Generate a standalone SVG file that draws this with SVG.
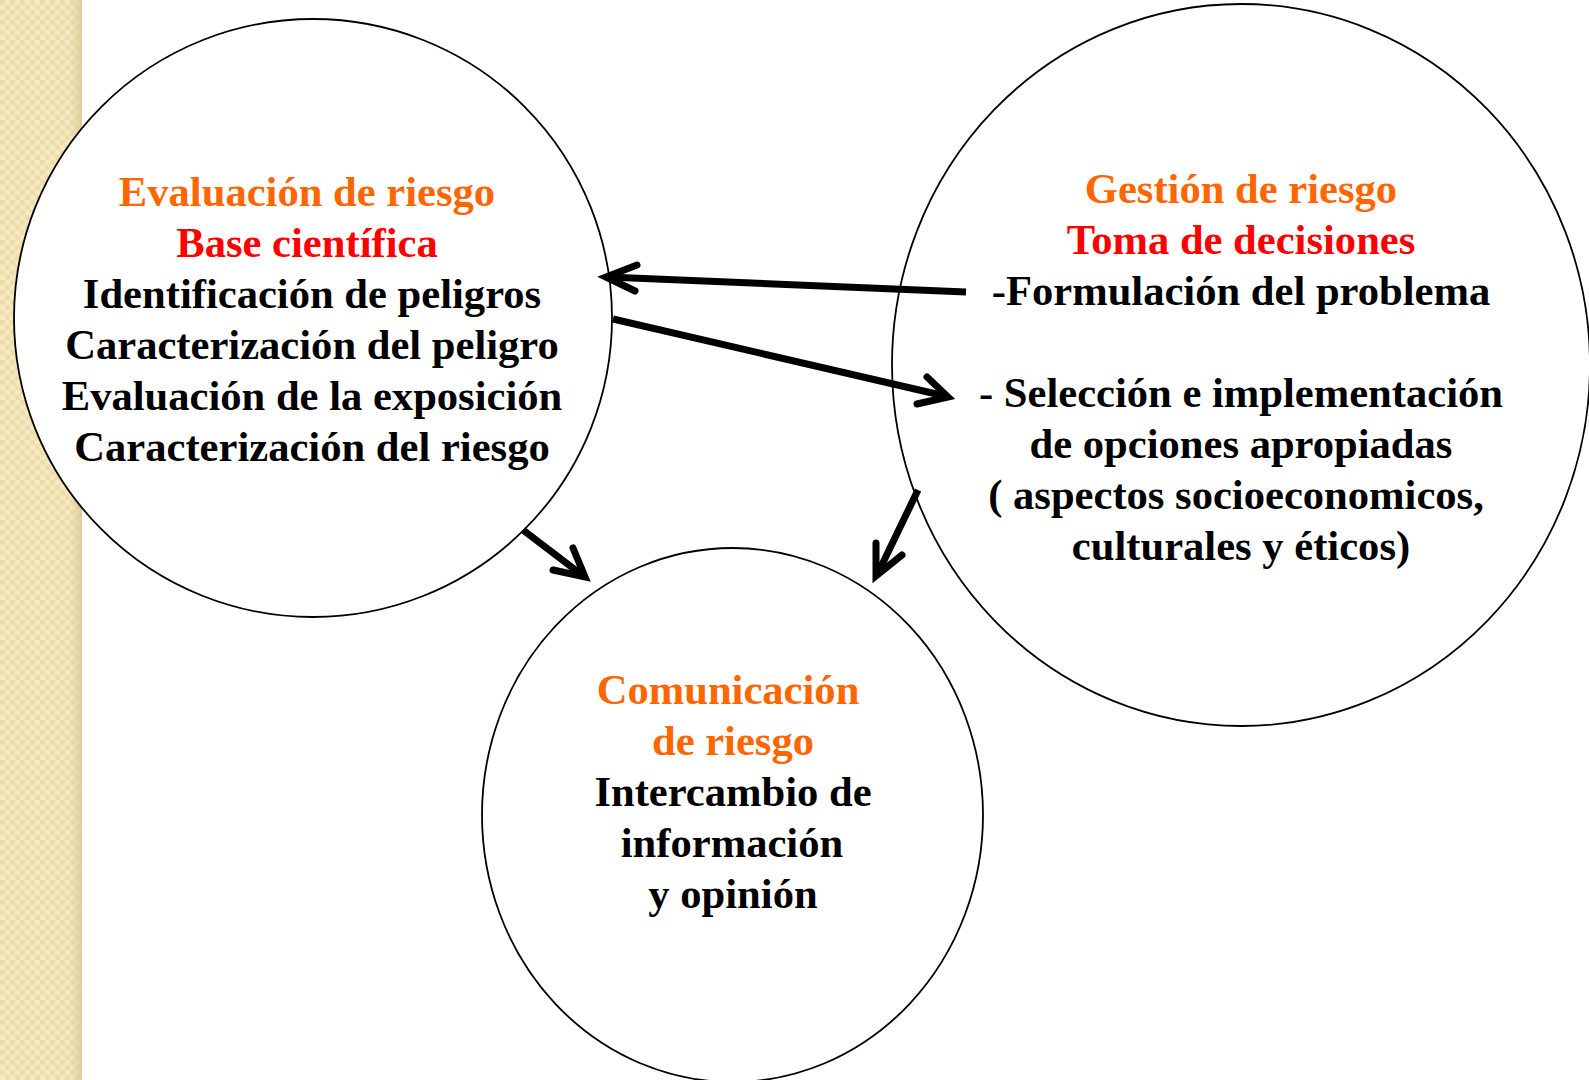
<svg xmlns="http://www.w3.org/2000/svg" width="1589" height="1080" viewBox="0 0 1589 1080">
<defs>
<pattern id="chk" width="10" height="10" patternUnits="userSpaceOnUse">
<rect width="10" height="10" fill="#F7E8BF"/>
<rect x="0" y="0" width="5" height="5" fill="#EEDDAE"/>
<rect x="5" y="5" width="5" height="5" fill="#EEDDAE"/>
<rect x="2" y="2" width="1" height="1" fill="#E4D2A0"/>
<rect x="7" y="7" width="1" height="1" fill="#E4D2A0"/>
</pattern>
<linearGradient id="shade" x1="0" x2="1" y1="0" y2="0">
<stop offset="0" stop-color="#D9C791" stop-opacity="0"/>
<stop offset="1" stop-color="#D9C791" stop-opacity="0.8"/>
</linearGradient>
</defs>
<style>
.c{fill:#fff;stroke:#000;stroke-width:1.8}
.t{font-family:"Liberation Serif","Times New Roman",serif;font-weight:bold;font-size:42.6px;text-anchor:middle}
.o{fill:#FF6600}
.r{fill:#FF0000}
.k{fill:#000}
.a{fill:none;stroke:#000;stroke-width:7;stroke-linecap:butt}
.h{fill:none;stroke:#000;stroke-width:7;stroke-linecap:round;stroke-linejoin:miter}
</style>
<rect width="1589" height="1080" fill="#fff"/>
<rect x="0" y="0" width="82" height="1080" fill="url(#chk)"/>
<rect x="70" y="0" width="12" height="1080" fill="url(#shade)"/>

<g id="evaluacion">
<circle class="c" cx="313" cy="318" r="299"/>
<text class="t o" x="307" y="206">Evaluación de riesgo</text>
<text class="t r" x="307" y="257">Base científica</text>
<text class="t k" x="312" y="308">Identificación de peligros</text>
<text class="t k" x="312" y="359">Caracterización del peligro</text>
<text class="t k" x="312" y="410">Evaluación de la exposición</text>
<text class="t k" x="312" y="461">Caracterización del riesgo</text>
</g>

<g id="gestion">
<ellipse class="c" cx="1241" cy="365" rx="349" ry="361"/>
<text class="t o" x="1241" y="203">Gestión de riesgo</text>
<text class="t r" x="1241" y="254">Toma de decisiones</text>
<text class="t k" x="1241" y="305">-Formulación del problema</text>
<text class="t k" x="1241" y="407">- Selección e implementación</text>
<text class="t k" x="1241" y="458">de opciones apropiadas</text>
<text class="t k" x="1236" y="509">( aspectos socioeconomicos,</text>
<text class="t k" x="1241" y="560">culturales y éticos)</text>
</g>

<g id="comunicacion">
<ellipse class="c" cx="732.5" cy="815" rx="250.5" ry="267"/>
<text class="t o" x="728" y="704">Comunicación</text>
<text class="t o" x="733" y="755">de riesgo</text>
<text class="t k" x="733" y="806">Intercambio de</text>
<text class="t k" x="732" y="857">información</text>
<text class="t k" x="733" y="908">y opinión</text>
</g>

<g id="connectors">
<line class="a" x1="966" y1="292" x2="608" y2="277"/>
<polyline class="h" points="637,265 606,277 635,291"/>
<line class="a" x1="613" y1="319" x2="945" y2="396"/>
<polyline class="h" points="927,377 948,397 917,404"/>
<line class="a" x1="523" y1="530" x2="582" y2="575"/>
<polyline class="h" points="573,548 585,577 553,570"/>
<line class="a" x1="918" y1="490" x2="878" y2="573"/>
<polyline class="h" points="876,543 876,576 902,555"/>
</g>
</svg>
